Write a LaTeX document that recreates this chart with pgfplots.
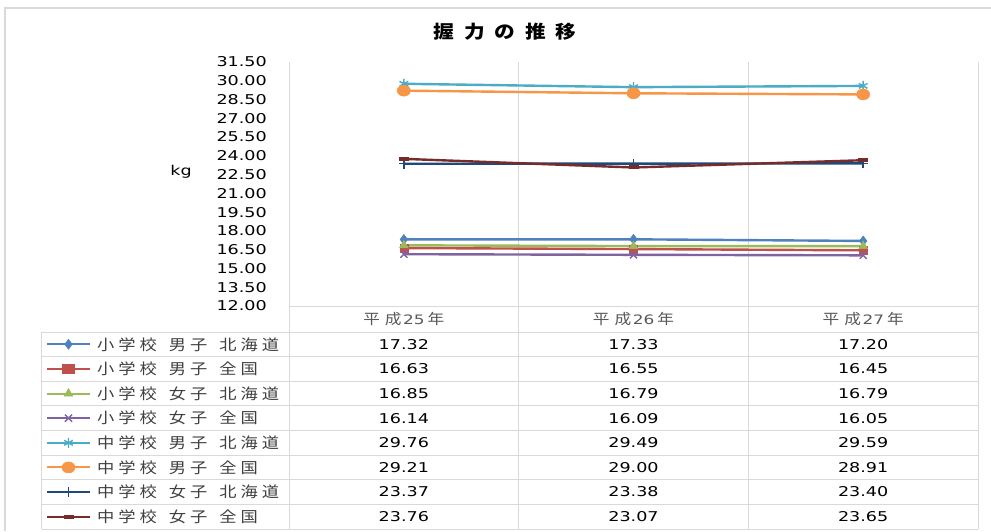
\documentclass[border=0pt]{standalone}
\usepackage{fontspec}
\usepackage{pgfplots}
\pgfplotsset{compat=1.18}
\setmainfont{DejaVu Sans}[FakeStretch=1.3]
\newfontfamily\numf{DejaVu Sans}[FakeStretch=1.3]
\newfontfamily\jp{Noto Sans CJK JP}[FakeStretch=1.15]
\newfontfamily\jpt{Noto Sans CJK JP}[FakeStretch=1.15, LetterSpace=55]
\newcommand{\numfont}{\numf\fontsize{13.5}{16}\selectfont}
\newcommand{\legfont}{\jp\fontsize{15}{17}\selectfont}
% explicit letter spacing for Japanese words
\def\spc#1{\spcA#1\relax}
\def\spcA#1{\ifx#1\relax\else #1\kern4pt\expandafter\spcA\fi}
\newcommand{\lgd}[3]{\spc{#1}\hspace{8pt}\spc{#2}\hspace{8pt}\spc{#3}}
\newcommand{\catlab}[1]{{\jp\fontsize{14.5}{16}\selectfont 平\kern5pt成\kern1.5pt}{\numf\fontsize{13}{16}\selectfont #1}{\jp\fontsize{14.5}{16}\selectfont \kern3pt年}}
\definecolor{c1}{HTML}{4F81BD}
\definecolor{c2}{HTML}{C0504D}
\definecolor{c3}{HTML}{9BBB59}
\definecolor{c4}{HTML}{8064A2}
\definecolor{c5}{HTML}{4BACC6}
\definecolor{c6}{HTML}{F79646}
\definecolor{c7}{HTML}{1F497D}
\definecolor{c8}{HTML}{772C2A}
\definecolor{gridc}{HTML}{D9D9D9}
\definecolor{txt}{HTML}{404040}
\definecolor{cattxt}{HTML}{595959}
\pgfplotsset{
  s1/.style={c1, line width=2.4pt, mark=diamond*, mark size=5pt, mark options={solid, fill=c1, line width=0.5pt}},
  s2/.style={c2, line width=2.4pt, mark=square*, mark size=4pt, mark options={solid, fill=c2, line width=0.5pt}},
  s3/.style={c3, line width=2.4pt, mark=triangle*, mark size=5pt, mark options={solid, fill=c3, line width=0.5pt}},
  s4/.style={c4, line width=2.4pt, mark=x, mark size=5pt, mark options={solid, line width=1.4pt}},
  s5/.style={c5, line width=2.4pt, mark=asterisk, mark size=5pt, mark options={solid, line width=1.4pt}},
  s6/.style={c6, line width=2.4pt, mark=*, mark size=5.5pt, mark options={solid, fill=c6, line width=0.5pt, xscale=1.2}},
  s7/.style={c7, line width=2.4pt, mark=+, mark size=5pt, mark options={solid, line width=1.4pt}},
  s8/.style={c8, line width=2.4pt, mark=-, mark size=5pt, mark options={solid, line width=4pt}},
  tbl/.style={draw=none, mark=none, point meta=explicit,
    nodes near coords={\pgfmathprintnumber[fixed,fixed zerofill,precision=2]{\pgfplotspointmeta}},
    every node near coord/.append style={anchor=center, inner sep=0pt, font=\numfont, text=black}},
}
\begin{document}
\begin{tikzpicture}
\useasboundingbox (0pt,0pt) rectangle (991pt,-531pt);
\fill[white] (0pt,0pt) rectangle (991pt,-531pt);
\draw[gridc, line width=1.2pt] (5pt,-531pt) -- (5pt,-8pt) -- (991pt,-8pt);
\node[font={\jpt\bfseries\fontsize{18}{20}\selectfont}] at (505pt,-32pt) {握力の推移};
\node[font=\numfont, text=black] at (181pt,-172pt) {kg};

% chart
\begin{axis}[
  at={(289pt,-306pt)}, anchor=south west,
  scale only axis, width=689pt, height=244pt,
  xmin=-0.5, xmax=2.5, ymin=12, ymax=31.5,
  axis line style={draw=none},
  clip=false,
  xtick={-0.5,0.5,1.5,2.5}, xticklabels={},
  xmajorgrids, major grid style={draw=gridc, line width=1pt},
  major tick length=0pt,
  ytick={12,13.5,15,16.5,18,19.5,21,22.5,24,25.5,27,28.5,30,31.5},
  /pgf/number format/assume math mode=true,
  yticklabel style={/pgf/number format/.cd, fixed, fixed zerofill, precision=2, /tikz/.cd,
     anchor=east, inner sep=0pt, xshift=-22pt, font=\numfont, text=black},
  extra x ticks={0,1,2},
  extra x tick labels={\catlab{25},\catlab{26},\catlab{27}},
  extra x tick style={grid=none, xticklabel style={anchor=center, yshift=-13pt, text=cattxt}},
]
\draw[gridc, line width=1pt] (axis cs:-0.5,12) -- (axis cs:2.5,12);
\addplot[s1] coordinates {(0,17.32) (1,17.33) (2,17.20)};
\addplot[s2] coordinates {(0,16.63) (1,16.55) (2,16.45)};
\addplot[s3] coordinates {(0,16.85) (1,16.79) (2,16.79)};
\addplot[s4] coordinates {(0,16.14) (1,16.09) (2,16.05)};
\addplot[s5] coordinates {(0,29.76) (1,29.49) (2,29.59)};
\addplot[s6] coordinates {(0,29.21) (1,29.00) (2,28.91)};
\addplot[s7] coordinates {(0,23.37) (1,23.38) (2,23.40)};
\addplot[s8] coordinates {(0,23.76) (1,23.07) (2,23.65)};
\end{axis}

% data table
\begin{axis}[
  at={(42pt,-529pt)}, anchor=south west,
  scale only axis, width=936pt, height=223pt,
  xmin=-1.5755, xmax=2.5, ymin=0, ymax=223,
  hide axis, clip=false,
  /pgf/number format/assume math mode=true,
]
% grid lines
\draw[gridc, line width=1pt] (axis cs:-1.5755,197) -- (axis cs:2.5,197);
\draw[gridc, line width=1pt] (axis cs:-1.5755,172.375) -- (axis cs:2.5,172.375);
\draw[gridc, line width=1pt] (axis cs:-1.5755,147.75) -- (axis cs:2.5,147.75);
\draw[gridc, line width=1pt] (axis cs:-1.5755,123.125) -- (axis cs:2.5,123.125);
\draw[gridc, line width=1pt] (axis cs:-1.5755,98.5) -- (axis cs:2.5,98.5);
\draw[gridc, line width=1pt] (axis cs:-1.5755,73.875) -- (axis cs:2.5,73.875);
\draw[gridc, line width=1pt] (axis cs:-1.5755,49.25) -- (axis cs:2.5,49.25);
\draw[gridc, line width=1pt] (axis cs:-1.5755,24.625) -- (axis cs:2.5,24.625);
\draw[gridc, line width=1pt] (axis cs:-1.5755,0) -- (axis cs:2.5,0);
\draw[gridc, line width=1pt] (axis cs:-1.5755,0) -- (axis cs:-1.5755,197);
\draw[gridc, line width=1pt] (axis cs:-0.5,0) -- (axis cs:-0.5,223);
\draw[gridc, line width=1pt] (axis cs:0.5,0) -- (axis cs:0.5,223);
\draw[gridc, line width=1pt] (axis cs:1.5,0) -- (axis cs:1.5,223);
\draw[gridc, line width=1pt] (axis cs:2.5,0) -- (axis cs:2.5,223);
% legend keys
\addplot[s1, mark indices={2}, line width=2pt] coordinates {(-1.5537,184.69) (-1.4601,184.69) (-1.3665,184.69)};
\addplot[s2, mark indices={2}, line width=2pt, mark options={xscale=1.4}] coordinates {(-1.5537,160.06) (-1.4601,160.06) (-1.3665,160.06)};
\addplot[s3, mark indices={2}, line width=2pt] coordinates {(-1.5537,135.44) (-1.4601,135.44) (-1.3665,135.44)};
\addplot[s4, mark indices={2}, line width=2pt] coordinates {(-1.5537,110.81) (-1.4601,110.81) (-1.3665,110.81)};
\addplot[s5, mark indices={2}, line width=2pt] coordinates {(-1.5537,86.19) (-1.4601,86.19) (-1.3665,86.19)};
\addplot[s6, mark indices={2}, line width=2pt] coordinates {(-1.5537,61.56) (-1.4601,61.56) (-1.3665,61.56)};
\addplot[s7, mark indices={2}, line width=2pt] coordinates {(-1.5537,36.94) (-1.4601,36.94) (-1.3665,36.94)};
\addplot[s8, mark indices={2}, line width=2pt] coordinates {(-1.5537,12.31) (-1.4601,12.31) (-1.3665,12.31)};
\node[anchor=west, font=\legfont, text=txt, inner sep=0pt] at (axis cs:-1.336,184.69) {\lgd{小学校}{男子}{北海道}};
\node[anchor=west, font=\legfont, text=txt, inner sep=0pt] at (axis cs:-1.336,160.06) {\lgd{小学校}{男子}{全国}};
\node[anchor=west, font=\legfont, text=txt, inner sep=0pt] at (axis cs:-1.336,135.44) {\lgd{小学校}{女子}{北海道}};
\node[anchor=west, font=\legfont, text=txt, inner sep=0pt] at (axis cs:-1.336,110.81) {\lgd{小学校}{女子}{全国}};
\node[anchor=west, font=\legfont, text=txt, inner sep=0pt] at (axis cs:-1.336,86.19) {\lgd{中学校}{男子}{北海道}};
\node[anchor=west, font=\legfont, text=txt, inner sep=0pt] at (axis cs:-1.336,61.56) {\lgd{中学校}{男子}{全国}};
\node[anchor=west, font=\legfont, text=txt, inner sep=0pt] at (axis cs:-1.336,36.94) {\lgd{中学校}{女子}{北海道}};
\node[anchor=west, font=\legfont, text=txt, inner sep=0pt] at (axis cs:-1.336,12.31) {\lgd{中学校}{女子}{全国}};
% table values
\addplot[tbl] coordinates {(0,184.69) [17.32] (1,184.69) [17.33] (2,184.69) [17.20]};
\addplot[tbl] coordinates {(0,160.06) [16.63] (1,160.06) [16.55] (2,160.06) [16.45]};
\addplot[tbl] coordinates {(0,135.44) [16.85] (1,135.44) [16.79] (2,135.44) [16.79]};
\addplot[tbl] coordinates {(0,110.81) [16.14] (1,110.81) [16.09] (2,110.81) [16.05]};
\addplot[tbl] coordinates {(0,86.19) [29.76] (1,86.19) [29.49] (2,86.19) [29.59]};
\addplot[tbl] coordinates {(0,61.56) [29.21] (1,61.56) [29.00] (2,61.56) [28.91]};
\addplot[tbl] coordinates {(0,36.94) [23.37] (1,36.94) [23.38] (2,36.94) [23.40]};
\addplot[tbl] coordinates {(0,12.31) [23.76] (1,12.31) [23.07] (2,12.31) [23.65]};
\end{axis}
\end{tikzpicture}
\end{document}
